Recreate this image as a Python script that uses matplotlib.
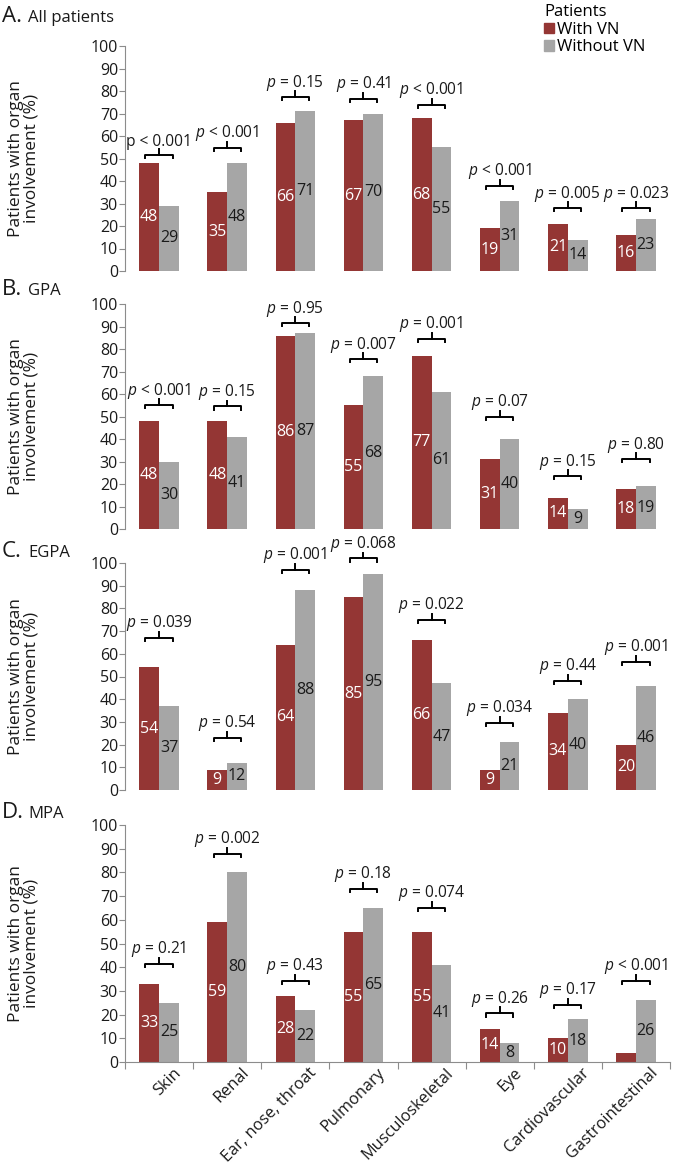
import numpy as np
import matplotlib.pyplot as plt
from matplotlib.patches import Patch

plt.rcParams['font.family'] = ['Open Sans', 'DejaVu Sans']
plt.rcParams['mathtext.fontset'] = 'custom'
plt.rcParams['mathtext.it'] = 'Open Sans:italic'
plt.rcParams['mathtext.rm'] = 'Open Sans'

organs = ['Skin', 'Renal', 'Ear, nose, throat', 'Pulmonary',
          'Musculoskeletal', 'Eye', 'Cardiovascular', 'Gastrointestinal']

# A. All patients
all_with = [48, 35, 66, 67, 68, 19, 21, 16]
all_without = [29, 48, 71, 70, 55, 31, 14, 23]
all_p = ['p < 0.001', '< 0.001', '= 0.15', '= 0.41', '< 0.001', '< 0.001', '= 0.005', '= 0.023']
all_py = [51.7, 54.8, 77.3, 76.6, 74, 37.8, 28, 28]

# B. GPA
gpa_with = [48, 48, 86, 55, 77, 31, 14, 18]
gpa_without = [30, 41, 87, 68, 61, 40, 9, 19]
gpa_p = ['< 0.001', '= 0.15', '= 0.95', '= 0.007', '= 0.001', '= 0.07', '= 0.15', '= 0.80']
gpa_py = [55, 54.5, 91.5, 75.5, 84.5, 50, 23.5, 31]

# C. EGPA
egpa_with = [54, 9, 64, 85, 66, 9, 34, 20]
egpa_without = [37, 12, 88, 95, 47, 21, 40, 46]
egpa_p = ['= 0.039', '= 0.54', '= 0.001', '= 0.068', '= 0.022', '= 0.034', '= 0.44', '= 0.001']
egpa_py = [67, 23, 97, 102, 75, 29.5, 48, 56.5]

# D. MPA (GI "with VN" bar has no label in the original)
mpa_with = [33, 59, 28, 55, 55, 14, 10, 4]
mpa_with_lbl = ['33', '59', '28', '55', '55', '14', '10', '']
mpa_without = [25, 80, 22, 65, 41, 8, 18, 26]
mpa_p = ['= 0.21', '= 0.002', '= 0.43', '= 0.18', '= 0.074', '= 0.26', '= 0.17', '< 0.001']
mpa_py = [41.3, 87.7, 34.3, 73, 65, 20.5, 24, 34.3]

panels = [
    ('A.', 'All patients', all_with, [str(v) for v in all_with], all_without, all_p, all_py),
    ('B.', 'GPA', gpa_with, [str(v) for v in gpa_with], gpa_without, gpa_p, gpa_py),
    ('C.', 'EGPA', egpa_with, [str(v) for v in egpa_with], egpa_without, egpa_p, egpa_py),
    ('D.', 'MPA', mpa_with, mpa_with_lbl, mpa_without, mpa_p, mpa_py),
]

RED = '#943634'
GRAY = '#a6a6a6'
AXC = '#8c8c8c'
TXT = '#1a1a1a'

# axes boxes in pixels: (top = 100, bottom = 0)
W, H = 676, 1175
boxes = [(46, 271), (304, 529), (563, 790), (825, 1062)]
titles_y = [22, 295, 557, 818]
x0, x1 = 125, 670

fig = plt.figure(figsize=(W / 100, H / 100), dpi=100)
x = np.arange(len(organs))
bw = 0.29

for i, (letter, name, wv, wl, wo, pv, py) in enumerate(panels):
    top, bot = boxes[i]
    ax = fig.add_axes([x0 / W, 1 - bot / H, (x1 - x0) / W, (bot - top) / H])
    ax.bar(x - bw / 2, wv, bw, color=RED)
    ax.bar(x + bw / 2, wo, bw, color=GRAY)
    for j in range(len(organs)):
        ax.text(x[j] - bw / 2, wv[j] / 2, wl[j], color='white', fontsize=11.5,
                ha='center', va='center')
        ax.text(x[j] + bw / 2, wo[j] / 2, str(wo[j]), color=TXT, fontsize=11.5,
                ha='center', va='center')
        # bracket with p value
        y = py[j]
        ax.plot([x[j] - 0.2, x[j] - 0.2, x[j] + 0.2, x[j] + 0.2],
                [y - 1.4, y, y, y - 1.4], color='black', lw=1.4, clip_on=False)
        ax.plot([x[j], x[j]], [y, y + 2.6], color='black', lw=1.4, clip_on=False)
        s = pv[j]
        if not s.startswith('p'):
            s = '$p$ ' + s
        ax.text(x[j], y + 2.0, s, fontsize=11.2, ha='center', va='bottom',
                color=TXT, clip_on=False)

    ax.set_xlim(-0.5, len(organs) - 0.5)
    ax.set_ylim(0, 100)
    ax.set_yticks(range(0, 101, 10))
    ax.tick_params(axis='y', length=4, color=AXC, labelsize=11.5, pad=1,
                   labelcolor=TXT)
    for s in ['top', 'right']:
        ax.spines[s].set_visible(False)
    ax.spines['left'].set_color(AXC)
    ax.set_ylabel('Patients with organ\ninvolvement (%)', fontsize=12.5,
                  color=TXT, linespacing=1.0)
    ax.yaxis.set_label_coords(-0.156, 0.5)

    if i < 3:
        ax.spines['bottom'].set_visible(False)
        ax.set_xticks([])
    else:
        ax.spines['bottom'].set_color(AXC)
        ax.set_xticks(np.arange(-0.5, len(organs), 1))
        ax.set_xticklabels([])
        ax.tick_params(axis='x', which='major', length=5, color=AXC)
        ax.set_xticks(x + 0.2, minor=True)
        ax.set_xticklabels(organs, minor=True, rotation=45, ha='right',
                           va='top', rotation_mode='anchor', fontsize=11.8,
                           color=TXT)
        ax.tick_params(axis='x', which='minor', length=0, pad=2)

    fig.text(2 / W, 1 - titles_y[i] / H, letter, fontsize=16, va='baseline',
             color=TXT)
    fig.text(28 / W, 1 - titles_y[i] / H, name, fontsize=12, va='baseline',
             color=TXT)

handles = [Patch(color=RED, label='With VN'), Patch(color=GRAY, label='Without VN')]
leg = fig.legend(handles=handles, title='Patients', loc='upper left',
                 bbox_to_anchor=(534 / W, 1.005), frameon=False, fontsize=12,
                 title_fontsize=12, handlelength=0.6, handleheight=0.6,
                 handletextpad=0.2, labelspacing=0.1, borderpad=0.1)
leg._legend_box.align = 'left'

fig.savefig('out.png', dpi=100)
